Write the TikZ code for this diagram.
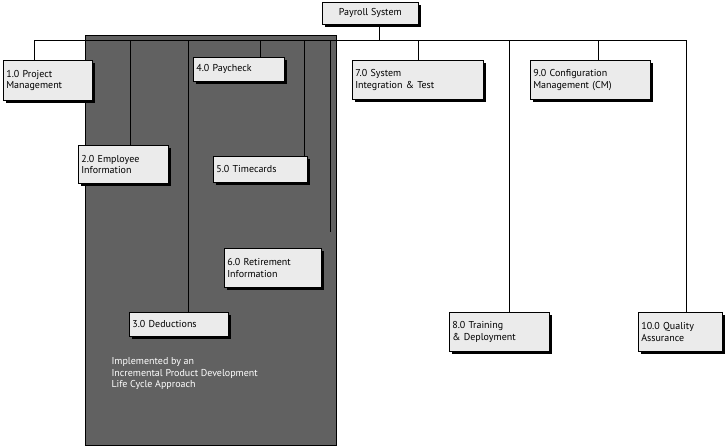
\documentclass[tikz,border=0pt]{standalone}
\usepackage{fontspec}
\setmainfont{PT Sans}
\usetikzlibrary{shadows}
\begin{document}
\begin{tikzpicture}[x=1pt,y=-1pt,
  wbs/.style={draw=black,fill=black!8,line width=0.6pt,anchor=north west,inner sep=0pt,
    align=left,font=\fontsize{10}{11.5}\selectfont,
    drop shadow={shadow xshift=3pt,shadow yshift=-3pt,fill=black,opacity=1}},
  ln/.style={line width=1pt}]
\useasboundingbox (0,0) rectangle (725,447);
\node[draw=black,fill=black!62,minimum width=251pt,minimum height=410pt,anchor=north west,inner sep=0pt] (grp) at (85,35) {};
\node[anchor=north west,text=white,align=left,font=\fontsize{10}{11.5}\selectfont] (note) at (108,354)
 {Implemented by an\\Incremental Product Development\\Life Cycle Approach};
\newcommand{\wbox}[6]{\node[wbs,minimum width=#4pt,minimum height=#5pt,text width=#4pt-8pt] (#1) at (#2,#3) {\hspace*{4pt}\parbox{#4pt}{#6}};}
\coordinate (bL) at (34,40); \coordinate (bR) at (686,40);
\draw[ln] (bL) -- (bR);
\draw[ln] (379,24) -- (379,40);
\node[wbs,minimum width=96pt,minimum height=22pt,align=center] (root) at (322,2) {Payroll System};
\draw[ln] (34,40) -- (34,60);
\draw[ln] (130,40) -- (130,145);
\draw[ln] (188,40) -- (188,312);
\draw[ln] (260,40) -- (260,57);
\draw[ln] (304,40) -- (304,156);
\coordinate (e6) at (330,232);
\draw[ln] (330,40) -- (e6);
\draw[ln] (418,40) -- (418,60);
\draw[ln] (509,40) -- (509,312);
\draw[ln] (598,40) -- (598,60);
\draw[ln] (686,40) -- (686,312);
\node[wbs,minimum width=89pt,minimum height=40pt,text width=83pt,inner xsep=3pt] (n1) at (3,60) {1.0 Project\\Management};
\node[wbs,minimum width=90pt,minimum height=38pt,text width=84pt,inner xsep=3pt] (n2) at (78,145) {2.0 Employee\\Information};
\node[wbs,minimum width=99pt,minimum height=24pt,text width=93pt,inner xsep=3pt] (n3) at (129,312) {3.0 Deductions};
\node[wbs,minimum width=91pt,minimum height=24pt,text width=85pt,inner xsep=3pt] (n4) at (193,57) {4.0 Paycheck};
\node[wbs,minimum width=94pt,minimum height=26pt,text width=88pt,inner xsep=3pt] (n5) at (213,156) {5.0 Timecards};
\node[wbs,minimum width=97pt,minimum height=39pt,text width=91pt,inner xsep=3pt] (n6) at (224,248) {6.0 Retirement\\Information};
\node[wbs,minimum width=131pt,minimum height=39pt,text width=125pt,inner xsep=3pt] (n7) at (352,60) {7.0 System\\Integration \& Test};
\node[wbs,minimum width=100pt,minimum height=39pt,text width=94pt,inner xsep=3pt] (n8) at (449,312) {8.0 Training\\\& Deployment};
\node[wbs,minimum width=120pt,minimum height=39pt,text width=114pt,inner xsep=3pt] (n9) at (530,60) {9.0 Configuration\\Management (CM)};
\node[wbs,minimum width=84pt,minimum height=39pt,text width=78pt,inner xsep=3pt] (n10) at (638,312) {10.0 Quality\\Assurance};
\end{tikzpicture}
\end{document}
